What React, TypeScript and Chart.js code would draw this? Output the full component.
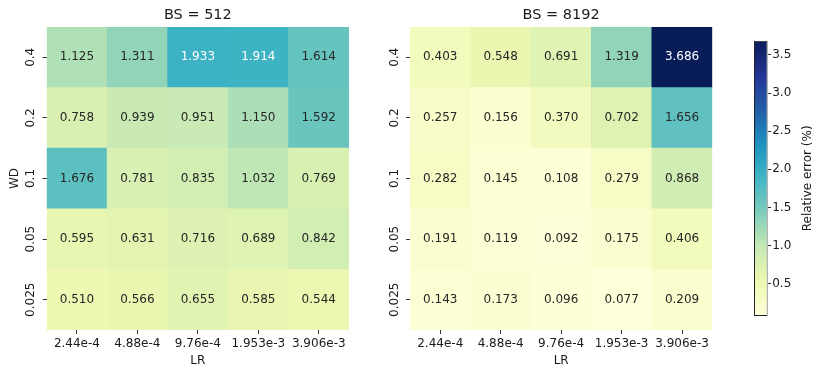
import React, { useEffect, useRef } from "react";
import { Chart, registerables } from "chart.js";
Chart.register(...registerables);

// ---------------- data ----------------
const lrLabels = ["2.44e-4", "4.88e-4", "9.76e-4", "1.953e-3", "3.906e-3"];
// rows from bottom to top
const wdLabels = ["0.025", "0.05", "0.1", "0.2", "0.4"];

// BS = 512
const bs512_wd0025 = [0.51, 0.566, 0.655, 0.585, 0.544];
const bs512_wd005 = [0.595, 0.631, 0.716, 0.689, 0.842];
const bs512_wd01 = [1.676, 0.781, 0.835, 1.032, 0.769];
const bs512_wd02 = [0.758, 0.939, 0.951, 1.15, 1.592];
const bs512_wd04 = [1.125, 1.311, 1.933, 1.914, 1.614];

// BS = 8192
const bs8192_wd0025 = [0.143, 0.173, 0.096, 0.077, 0.209];
const bs8192_wd005 = [0.191, 0.119, 0.092, 0.175, 0.406];
const bs8192_wd01 = [0.282, 0.145, 0.108, 0.279, 0.868];
const bs8192_wd02 = [0.257, 0.156, 0.37, 0.702, 1.656];
const bs8192_wd04 = [0.403, 0.548, 0.691, 1.319, 3.686];

const colorbarTicks = [0.5, 1.0, 1.5, 2.0, 2.5, 3.0, 3.5];

const rows512 = [bs512_wd0025, bs512_wd005, bs512_wd01, bs512_wd02, bs512_wd04];
const rows8192 = [bs8192_wd0025, bs8192_wd005, bs8192_wd01, bs8192_wd02, bs8192_wd04];

const allVals = [...rows512.flat(), ...rows8192.flat()];
const vmin = Math.min(...allVals);
const vmax = Math.max(...allVals);

// ---------------- colormap (YlGnBu) ----------------
const YLGNBU = ["#ffffd9", "#edf8b1", "#c7e9b4", "#7fcdbb", "#41b6c4", "#1d91c0", "#225ea8", "#253494", "#081d58"];
const hexToRgb = (h: string) => [parseInt(h.slice(1, 3), 16), parseInt(h.slice(3, 5), 16), parseInt(h.slice(5, 7), 16)];
const STOPS = YLGNBU.map(hexToRgb);
function cmapRgb(t: number) {
  t = Math.max(0, Math.min(1, t));
  const p = t * (STOPS.length - 1);
  const i = Math.min(Math.floor(p), STOPS.length - 2);
  const f = p - i;
  const a = STOPS[i], b = STOPS[i + 1];
  return [0, 1, 2].map((k) => a[k] + (b[k] - a[k]) * f);
}
const rgbStr = (c: number[]) => `rgb(${Math.round(c[0])},${Math.round(c[1])},${Math.round(c[2])})`;
const norm = (v: number) => (v - vmin) / (vmax - vmin);
function lum(c: number[]) {
  const l = c.map((x) => {
    const s = x / 255;
    return s <= 0.03928 ? s / 12.92 : Math.pow((s + 0.055) / 1.055, 2.4);
  });
  return 0.2126 * l[0] + 0.7152 * l[1] + 0.0722 * l[2];
}

const FONT = "'DejaVu Sans', sans-serif";
const TEXT = "#1a1a1a";
const TICKC = "#333333";

// ---------------- heatmap ----------------
function Heatmap(props: { title: string; rows: number[][]; showWD: boolean; left: number; width: number; yAxisW: number; padRight: number }) {
  const ref = useRef<HTMLCanvasElement>(null);
  useEffect(() => {
    const { rows, showWD } = props;
    const annot = {
      id: "annot",
      afterDatasetsDraw(chart: any) {
        const ctx = chart.ctx;
        ctx.save();
        ctx.font = `12px ${FONT}`;
        ctx.textAlign = "center";
        ctx.textBaseline = "middle";
        chart.data.datasets.forEach((ds: any, di: number) => {
          const meta = chart.getDatasetMeta(di);
          meta.data.forEach((el: any, i: number) => {
            const v = rows[di][i];
            const c = cmapRgb(norm(v));
            ctx.fillStyle = lum(c) > 0.408 ? "#262626" : "#ffffff";
            ctx.fillText(v.toFixed(3), el.x, (el.y + el.base) / 2);
          });
        });
        // y tick labels (rotated)
        const ys = chart.scales.y;
        ctx.fillStyle = TEXT;
        wdLabels.forEach((lab, i) => {
          const y = ys.getPixelForValue(i + 0.5);
          ctx.save();
          ctx.translate(ys.right - 15.5, y);
          ctx.rotate(-Math.PI / 2);
          ctx.fillText(lab, 0, 0);
          ctx.restore();
        });
        if (showWD) {
          ctx.save();
          ctx.translate(ys.right - 31.5, (chart.chartArea.top + chart.chartArea.bottom) / 2);
          ctx.rotate(-Math.PI / 2);
          ctx.fillText("WD", 0, 0);
          ctx.restore();
        }
        ctx.restore();
      },
    };
    const chart = new Chart(ref.current!, {
      type: "bar",
      data: {
        labels: lrLabels,
        datasets: rows.map((vals, i) => ({
          label: wdLabels[i],
          data: vals.map(() => 1),
          backgroundColor: vals.map((v) => rgbStr(cmapRgb(norm(v)))),
          borderWidth: 0,
          barPercentage: 1,
          categoryPercentage: 1,
        })),
      },
      options: {
        responsive: false,
        animation: false,
        events: [],
        layout: { padding: { left: 0, right: props.padRight, top: 0, bottom: 0 } },
        plugins: {
          legend: { display: false },
          tooltip: { enabled: false },
          title: {
            display: true,
            text: props.title,
            fullSize: false,
            color: TEXT,
            font: { family: FONT, size: 14.5, weight: "normal" },
            padding: { top: 6.5, bottom: 3.1 },
          },
        },
        scales: {
          x: {
            type: "category",
            stacked: true,
            grid: { display: true, drawOnChartArea: false, drawTicks: true, tickLength: 4, tickColor: TICKC, offset: false },
            border: { display: false },
            ticks: { color: TEXT, font: { family: FONT, size: 12 }, padding: 3, maxRotation: 0, minRotation: 0, autoSkip: false },
            title: { display: true, text: "LR", color: TEXT, font: { family: FONT, size: 12 }, padding: { top: 0, bottom: 9 } },
            afterFit: (s: any) => { s.height = 47; },
          },
          y: {
            type: "linear",
            stacked: true,
            min: 0,
            max: 5,
            afterBuildTicks: (s: any) => { s.ticks = wdLabels.map((_, i) => ({ value: i + 0.5 })); },
            grid: { display: true, drawOnChartArea: false, drawTicks: true, tickLength: 4, tickColor: TICKC },
            border: { display: false },
            ticks: { display: false },
            afterFit: (s: any) => { s.width = props.yAxisW; },
          },
        },
      } as any,
      plugins: [annot],
    });
    return () => chart.destroy();
  }, []);
  return (
    <canvas ref={ref} width={props.width} height={377} style={{ position: "absolute", left: props.left, top: 0, width: props.width, height: 377 }} />
  );
}

// ---------------- colorbar ----------------
function Colorbar() {
  const ref = useRef<HTMLCanvasElement>(null);
  useEffect(() => {
    const label = {
      id: "cbarLabel",
      afterDraw(chart: any) {
        const ctx = chart.ctx;
        const ys = chart.scales.y;
        ctx.save();
        ctx.font = `12px ${FONT}`;
        ctx.fillStyle = TEXT;
        ctx.textAlign = "center";
        ctx.textBaseline = "middle";
        ctx.translate(ys.right - 14, (chart.chartArea.top + chart.chartArea.bottom) / 2);
        ctx.rotate(-Math.PI / 2);
        ctx.fillText("Relative error (%)", 0, 0);
        ctx.restore();
      },
    };
    const chart = new Chart(ref.current!, {
      type: "bar",
      data: {
        labels: [""],
        datasets: [
          {
            data: [[vmin, vmax]],
            backgroundColor: (c: any) => {
              const ch = c.chart;
              if (!ch.chartArea) return YLGNBU[0];
              const ys = ch.scales.y;
              const g = ch.ctx.createLinearGradient(0, ys.getPixelForValue(vmin), 0, ys.getPixelForValue(vmax));
              YLGNBU.forEach((col, i) => g.addColorStop(i / (YLGNBU.length - 1), col));
              return g;
            },
            borderColor: "#222222",
            borderWidth: 1,
            borderSkipped: false,
            inflateAmount: 0,
            barPercentage: 1,
            categoryPercentage: 1,
          },
        ],
      },
      options: {
        responsive: false,
        animation: false,
        events: [],
        layout: { padding: { left: 24, right: 0, top: 40.7, bottom: 61 } },
        plugins: { legend: { display: false }, tooltip: { enabled: false }, title: { display: false } },
        scales: {
          x: { display: false },
          y: {
            position: "right",
            min: vmin,
            max: vmax,
            afterBuildTicks: (s: any) => { s.ticks = colorbarTicks.map((v) => ({ value: v })); },
            grid: { display: true, drawOnChartArea: false, drawTicks: true, tickLength: 3.5, tickColor: TICKC },
            border: { display: false },
            ticks: { color: TEXT, font: { family: FONT, size: 12 }, padding: 1, callback: (v: any) => Number(v).toFixed(1) },
            afterFit: (s: any) => { s.width = 54.3; },
          },
        },
      } as any,
      plugins: [label],
    });
    return () => chart.destroy();
  }, []);
  return <canvas ref={ref} width={92} height={377} style={{ position: "absolute", left: 730, top: 0, width: 92, height: 377 }} />;
}

export default function App() {
  return (
    <div style={{ position: "absolute", left: 0, top: 0, width: 822, height: 377, background: "#ffffff", overflow: "hidden" }}>
      <Heatmap title="BS = 512" rows={rows512} showWD={true} left={0} width={370} yAxisW={46.7} padRight={21} />
      <Heatmap title="BS = 8192" rows={rows8192} showWD={false} left={370} width={360} yAxisW={40} padRight={17.7} />
      <Colorbar />
    </div>
  );
}
